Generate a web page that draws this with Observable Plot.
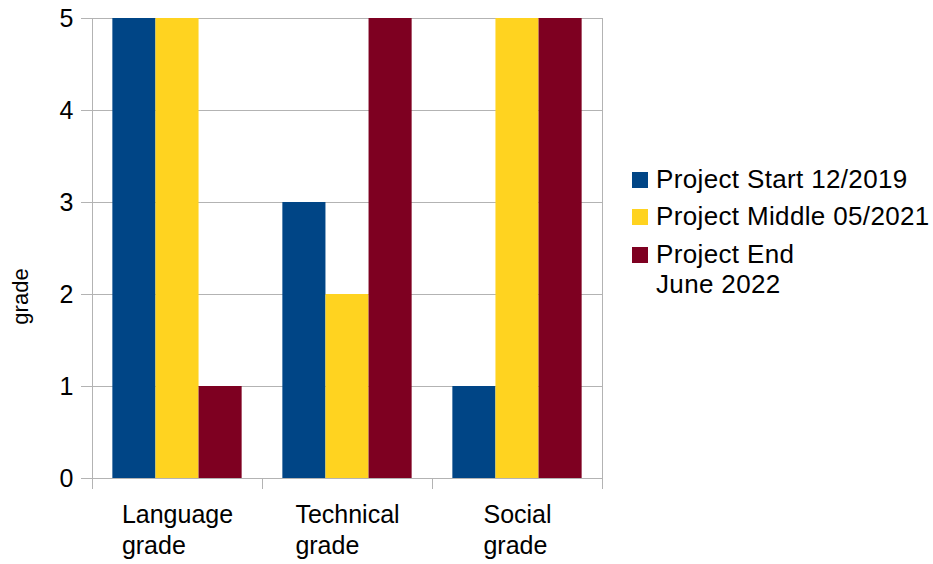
<!DOCTYPE html>
<html>
<head>
<meta charset="utf-8">
<script src="https://cdn.jsdelivr.net/npm/d3@7"></script>
<script src="https://cdn.jsdelivr.net/npm/@observablehq/plot@0.6"></script>
<style>
  html, body { margin: 0; padding: 0; background: #ffffff; }
  #chart { position: relative; width: 933px; height: 564px; font-family: "Liberation Sans", Arial, sans-serif; }
  #legend { position: absolute; left: 632px; top: 164px; font-size: 26px; letter-spacing: 0.35px; color: #000; }
  .item { position: absolute; left: 0; white-space: pre; line-height: 30px; }
  .swatch { position: absolute; left: 0; width: 16px; height: 16px; }
  .label { position: absolute; left: 24px; top: 0; }
</style>
</head>
<body>
<div id="chart"><div id="legend"></div></div>
<script>
// Categories (x axis groups) and tick labels
const categories = ["Language grade", "Technical grade", "Social grade"];
const tickLabels = ["Language\ngrade", "Technical\ngrade", "Social\ngrade"];

// Series names and their values per category
const seriesNames = ["Project Start 12/2019", "Project Middle 05/2021", "Project End\nJune 2022"];
const projectStart = [5, 3, 1];
const projectMiddle = [5, 2, 5];
const projectEnd = [1, 5, 5];
const seriesValues = [projectStart, projectMiddle, projectEnd];
const seriesColors = ["#004586", "#ffd320", "#7e0021"];

const yTicks = [0, 1, 2, 3, 4, 5];

// Long table for the bars; each category occupies one unit on x,
// bars take a fixed fraction of that unit and sit side by side.
const barFrac = 0.2535;
const padFrac = (1 - 3 * barFrac) / 2;
const rows = [];
categories.forEach((c, i) => {
  seriesNames.forEach((s, j) => {
    rows.push({
      category: c,
      series: s,
      value: seriesValues[j][i],
      x1: i + padFrac + j * barFrac,
      x2: i + padFrac + (j + 1) * barFrac
    });
  });
});

const gridColor = "#b3b3b3";
const fontFamily = "Liberation Sans, Arial, sans-serif";

// Measure the widest line of each tick label so the lines can be
// left-aligned within a block centred on the group.
const ctx = document.createElement("canvas").getContext("2d");
ctx.font = "25px 'Liberation Sans'";
const blockWidth = tickLabels.map(t => d3.max(t.split("\n"), l => ctx.measureText(l).width));

const plot = Plot.plot({
  width: 933,
  height: 564,
  marginLeft: 92,
  marginRight: 331,
  marginTop: 18,
  marginBottom: 86,
  style: { fontFamily, background: "#ffffff", overflow: "visible" },
  x: { domain: [0, categories.length], axis: null },
  y: { domain: [0, 5], axis: null },
  color: { domain: seriesNames, range: seriesColors },
  marks: [
    Plot.gridY(yTicks, { stroke: gridColor, strokeOpacity: 1 }),
    Plot.ruleX([0, categories.length], { stroke: gridColor }),
    Plot.axisY(yTicks, {
      tickSize: 11, tickPadding: 8, fontSize: 25, stroke: gridColor,
      fill: "#000", strokeOpacity: 1, label: null, tickFormat: d3.format("d")
    }),
    Plot.axisX(d3.range(categories.length + 1), {
      tickSize: 11, stroke: gridColor, strokeOpacity: 1,
      tickFormat: () => "", label: null
    }),
    Plot.rectY(rows, { x1: "x1", x2: "x2", y: "value", fill: "series" }),
    ...tickLabels.map((t, i) => Plot.text([t], {
      x: [i + 0.5], text: d => d, frameAnchor: "bottom",
      lineAnchor: "top", textAnchor: "start", dx: -blockWidth[i] / 2, dy: 22,
      lineHeight: 1.24, fontSize: 25, fill: "#000"
    })),
    Plot.text(["grade"], {
      frameAnchor: "left", rotate: -90, textAnchor: "middle", lineAnchor: "middle",
      dx: -71.5, dy: 48, fontSize: 22, fill: "#000"
    })
  ]
});
document.getElementById("chart").prepend(plot);

// Legend to the right of the plot
const legend = d3.select("#legend");
const rowTops = [0, 37, 75];
seriesNames.forEach((s, j) => {
  const item = legend.append("div").attr("class", "item").style("top", rowTops[j] + "px");
  item.append("div").attr("class", "swatch").style("top", "8px").style("background", seriesColors[j]);
  item.append("div").attr("class", "label").text(s);
});
</script>
</body>
</html>
